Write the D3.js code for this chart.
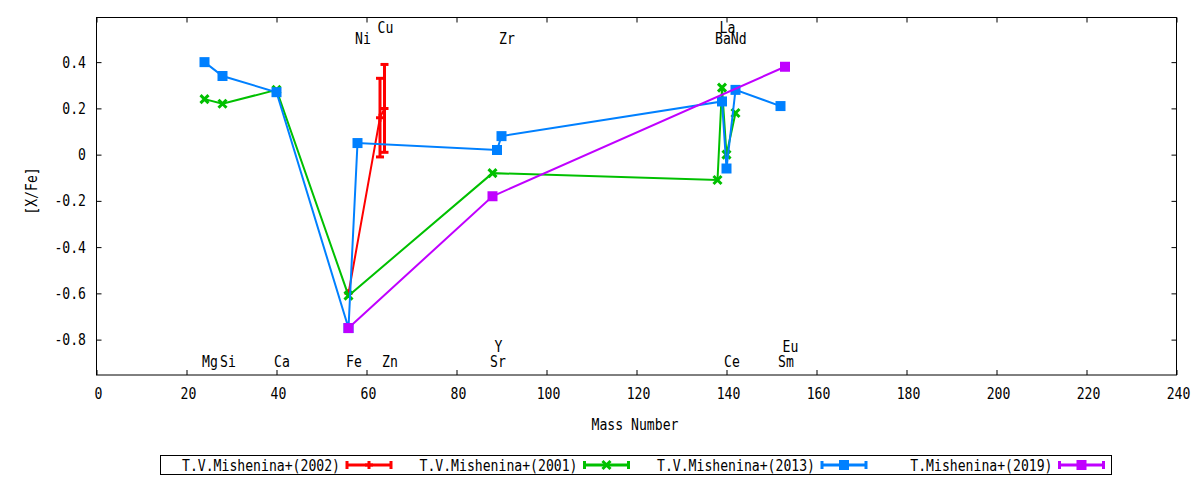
<!DOCTYPE html>
<html>
<head>
<meta charset="utf-8">
<script src="https://cdn.jsdelivr.net/npm/d3@7"></script>
<style>
  body { margin: 0; background: #fff; }
  text { font-family: "DejaVu Sans Mono", monospace; font-size: 15px; fill: #000; }
</style>
</head>
<body>
<svg id="chart"></svg>
<script>
// --- data ---
const seriesNames = ["T.V.Mishenina+(2002)", "T.V.Mishenina+(2001)", "T.V.Mishenina+(2013)", "T.Mishenina+(2019)"];
const seriesColors = ["#ff0000", "#00c000", "#0080ff", "#c000ff"];
const seriesMarks = ["plus", "cross", "square", "square"];

const redMass = [56, 63, 64];
const redVal = [-0.60, 0.16, 0.20];
const redErr = [0, 0.17, 0.19];

const greenMass = [24, 28, 40, 56, 88, 138, 139, 140, 142];
const greenVal = [0.24, 0.22, 0.28, -0.61, -0.08, -0.11, 0.29, 0.00, 0.18];

const blueMass = [24, 28, 40, 56, 58, 89, 90, 139, 140, 142, 152];
const blueVal = [0.40, 0.34, 0.27, -0.75, 0.05, 0.02, 0.08, 0.23, -0.06, 0.28, 0.21];

const purpleMass = [56, 88, 153];
const purpleVal = [-0.75, -0.18, 0.38];

// element labels (mass number, row)
const elemNames = ["Mg", "Si", "Ca", "Fe", "Zn", "Sr", "Ce", "Sm", "Y", "Eu", "Ni", "Zr", "Ba", "Nd", "Cu", "La"];
const elemMass = [24, 28, 40, 56, 64, 88, 140, 152, 89, 153, 58, 90, 138, 141.5, 63, 139];
const elemRowY = [-0.92, -0.92, -0.92, -0.92, -0.92, -0.92, -0.92, -0.92, -0.855, -0.855, 0.48, 0.48, 0.48, 0.48, 0.527, 0.527];

const xTicks = d3.range(0, 241, 20);
const yTicks = [0.4, 0.2, 0, -0.2, -0.4, -0.6, -0.8];

const width = 1200, height = 480;
const plot = { left: 96.5, right: 1176.5, top: 17.5, bottom: 375 };
const charW = 7.9; // narrow terminal font: squeeze each glyph to this advance

const svg = d3.select("#chart").attr("width", width).attr("height", height);

const x = d3.scaleLinear().domain([0, 240]).range([plot.left, plot.right]);
const y = d3.scaleLinear().domain([-0.953, 0.593]).range([plot.bottom, plot.top]);

// squeeze text horizontally so it looks like the gnuplot font
function squeeze(sel) {
    sel.each(function() {
        const t = d3.select(this);
        t.attr("textLength", t.text().length * charW).attr("lengthAdjust", "spacingAndGlyphs");
    });
}

// frame
svg.append("rect")
    .attr("x", plot.left).attr("y", plot.top)
    .attr("width", plot.right - plot.left).attr("height", plot.bottom - plot.top)
    .attr("fill", "none").attr("stroke", "#000").attr("stroke-width", 1);

// axes, ticks pointing inward, mirrored
const tickLen = 5;
const xBottom = d3.axisTop(x).tickValues(xTicks).tickSize(tickLen).tickFormat("");
const xTop = d3.axisBottom(x).tickValues(xTicks).tickSize(tickLen).tickFormat("");
const yLeft = d3.axisRight(y).tickValues(yTicks).tickSize(tickLen).tickFormat("");
const yRight = d3.axisLeft(y).tickValues(yTicks).tickSize(tickLen).tickFormat("");

svg.append("g").attr("transform", `translate(0,${plot.bottom})`).call(xBottom);
svg.append("g").attr("transform", `translate(0,${plot.top})`).call(xTop);
svg.append("g").attr("transform", `translate(${plot.left},0)`).call(yLeft);
svg.append("g").attr("transform", `translate(${plot.right},0)`).call(yRight);
svg.selectAll(".domain").remove();
svg.selectAll(".tick line").attr("stroke", "#000");

// tick labels
svg.append("g").selectAll("text")
    .data(xTicks)
    .join("text")
    .attr("x", d => x(d) + 2)
    .attr("y", 399)
    .attr("text-anchor", "middle")
    .text(d => d)
    .call(squeeze);

svg.append("g").selectAll("text")
    .data(yTicks)
    .join("text")
    .attr("x", 86)
    .attr("y", d => y(d) + 5.5)
    .attr("text-anchor", "end")
    .text(d => d === 0 ? "0" : d.toFixed(1))
    .call(squeeze);

// axis titles
svg.append("text")
    .attr("x", 635)
    .attr("y", 430)
    .attr("text-anchor", "middle")
    .text("Mass Number")
    .call(squeeze);

svg.append("text")
    .attr("transform", "translate(37,191) rotate(-90)")
    .attr("text-anchor", "middle")
    .text("[X/Fe]")
    .call(squeeze);

// element labels
svg.append("g").selectAll("text")
    .data(elemNames)
    .join("text")
    .attr("x", (d, i) => x(elemMass[i]) - 2.5)
    .attr("y", (d, i) => y(elemRowY[i]))
    .text(d => d)
    .call(squeeze);

// markers
function drawMark(g, type, color) {
    if (type === "square") {
        g.append("rect").attr("x", -5).attr("y", -5).attr("width", 10).attr("height", 10).attr("fill", color);
    } else if (type === "cross") {
        g.append("path").attr("d", "M-4,-4L4,4M-4,4L4,-4")
            .attr("stroke", color).attr("stroke-width", 3).attr("fill", "none");
    } else {
        g.append("path").attr("d", "M-4,0H4M0,-4V4")
            .attr("stroke", color).attr("stroke-width", 3).attr("fill", "none");
    }
}

const series = [
    { mass: redMass, val: redVal, err: redErr },
    { mass: greenMass, val: greenVal, err: null },
    { mass: blueMass, val: blueVal, err: null },
    { mass: purpleMass, val: purpleVal, err: null }
];

const line = d3.line().x(d => x(d[0])).y(d => y(d[1]));

series.forEach((s, si) => {
    const color = seriesColors[si];
    const pts = s.mass.map((m, i) => [m, s.val[i], s.err ? s.err[i] : 0]);
    const g = svg.append("g");

    g.append("path")
        .datum(pts)
        .attr("d", line)
        .attr("fill", "none")
        .attr("stroke", color)
        .attr("stroke-width", 2);

    // error bars
    pts.filter(p => p[2] > 0).forEach(p => {
        const cx = x(p[0]);
        const eb = g.append("g").attr("stroke", color).attr("stroke-width", 3);
        eb.append("line").attr("x1", cx).attr("x2", cx).attr("y1", y(p[1] - p[2])).attr("y2", y(p[1] + p[2]));
        eb.append("line").attr("x1", cx - 4).attr("x2", cx + 4).attr("y1", y(p[1] - p[2])).attr("y2", y(p[1] - p[2]));
        eb.append("line").attr("x1", cx - 4).attr("x2", cx + 4).attr("y1", y(p[1] + p[2])).attr("y2", y(p[1] + p[2]));
    });

    pts.forEach(p => {
        drawMark(g.append("g").attr("transform", `translate(${x(p[0])},${y(p[1])})`), seriesMarks[si], color);
    });
});

// legend
const legend = svg.append("g");
legend.append("rect")
    .attr("x", 160.5).attr("y", 455.5).attr("width", 951).attr("height", 19)
    .attr("fill", "none").attr("stroke", "#000");

seriesNames.forEach((name, i) => {
    const sx = 347 + i * 237.5;
    const cy = 465;
    const color = seriesColors[i];
    legend.append("text")
        .attr("x", sx - 7).attr("y", cy + 5.5)
        .attr("text-anchor", "end")
        .text(name)
        .call(squeeze);
    const sg = legend.append("g").attr("stroke", color).attr("stroke-width", 3);
    sg.append("line").attr("x1", sx).attr("x2", sx + 44).attr("y1", cy).attr("y2", cy);
    sg.append("line").attr("x1", sx).attr("x2", sx).attr("y1", cy - 4).attr("y2", cy + 4);
    sg.append("line").attr("x1", sx + 44).attr("x2", sx + 44).attr("y1", cy - 4).attr("y2", cy + 4);
    drawMark(legend.append("g").attr("transform", `translate(${sx + 22},${cy})`), seriesMarks[i], color);
});
</script>
</body>
</html>
